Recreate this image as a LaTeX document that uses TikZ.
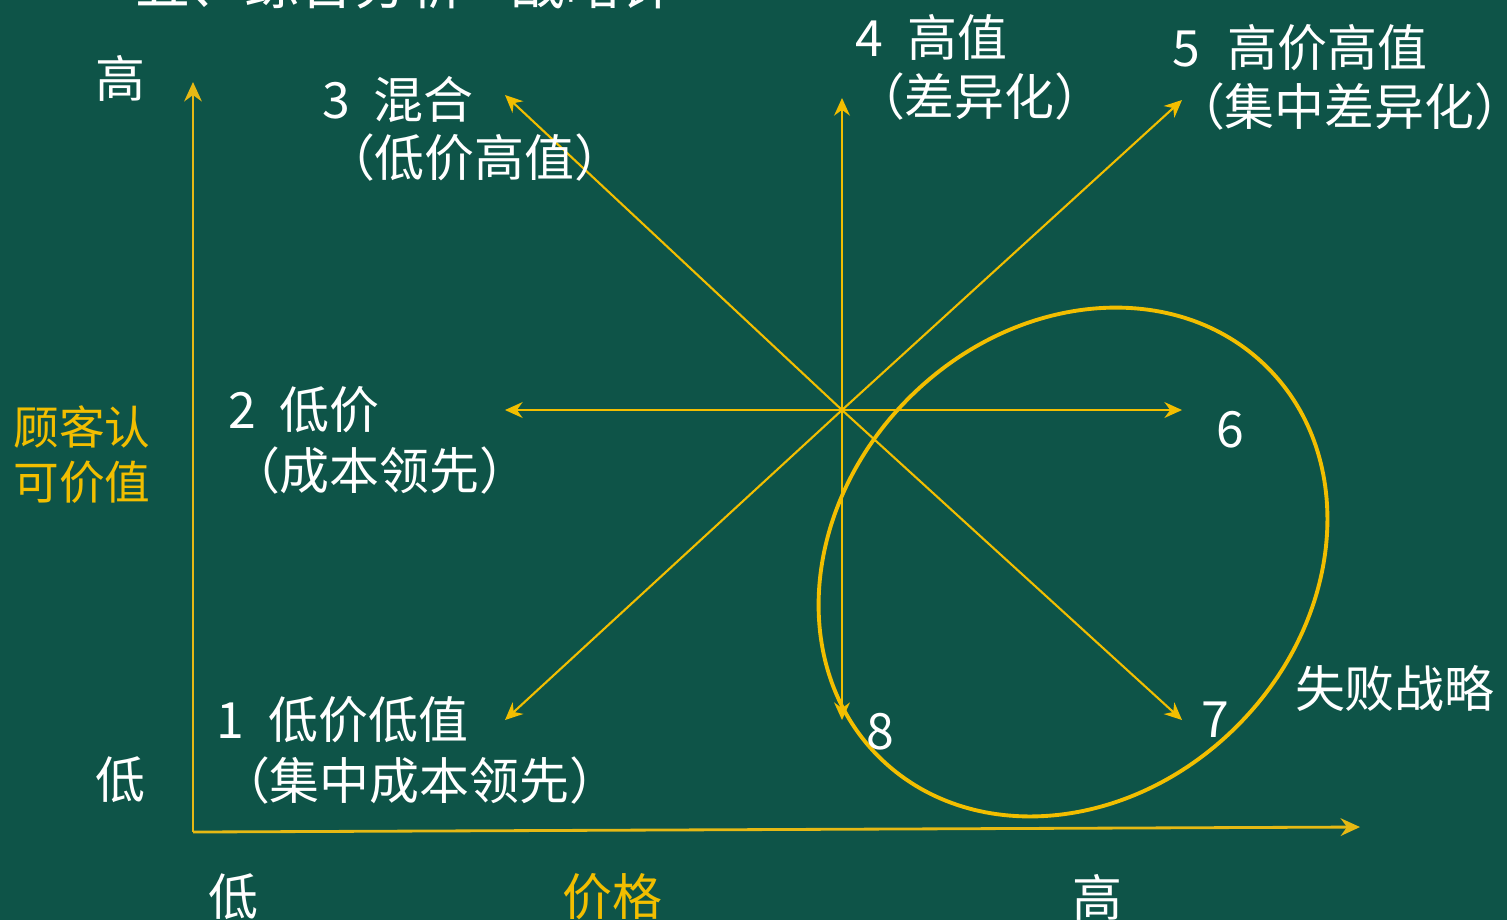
\documentclass[tikz,border=0pt]{standalone}
\usepackage{fontspec}
\setmainfont{Noto Sans CJK SC}
\usetikzlibrary{arrows.meta}
\definecolor{bg}{RGB}{14,84,72}
\definecolor{gold}{RGB}{242,190,0}
\definecolor{axisgold}{RGB}{230,185,20}
\begin{document}
\begin{tikzpicture}[x=0.01cm,y=-0.01cm,
  every node/.style={inner sep=0pt,outer sep=0pt,font=\fontsize{14.2pt}{17pt}\selectfont},
  lbl/.style={text=white,anchor=west},
  ctr/.style={text=white},
  ylab/.style={text=gold},
  arr/.style={draw=gold,line width=0.6pt,-{Stealth[length=5pt,width=4.5pt]}},
  axis/.style={draw=axisgold,line width=0.8pt,-{Stealth[length=5.5pt,width=5pt]}},
  ring/.style={draw=gold,line width=1.1pt}]
\fill[bg] (0,0) rectangle (1507,920);
\useasboundingbox (0,0) rectangle (1507,920);
\clip (0,0) rectangle (1507,920);
% title (cut off at top, as in the reference)
\node[text=white,anchor=base west,font=\fontsize{15.6pt}{18pt}\selectfont] (title) at (135,4) {五、综合分析\hspace{0.85em}战略钟};
% axes
\coordinate (orig) at (193,832);
\coordinate (yend) at (193,82);
\coordinate (xend) at (1360,827);
\draw[axis] (orig) -- (yend);
\draw[axis] (orig) -- (xend);
% centre and arrow ends
\coordinate (O) at (842,410);
\coordinate (e1) at (505,720);
\coordinate (e2) at (505,410);
\coordinate (e3) at (505,95);
\coordinate (e4) at (842,98);
\coordinate (e5) at (1182,100);
\coordinate (e6) at (1182,410);
\coordinate (e7) at (1182,720);
\coordinate (e8) at (842,720);
\foreach \e in {e1,e2,e3,e4,e5,e6,e7,e8} \draw[arr] (O) -- (\e);
% failure ring
\draw[ring,rotate around={45:(1073,562)}] (1073,562) ellipse [x radius=275, y radius=232];
% labels
\node[lbl] (t3a) at (322,100) {3\hspace{0.48em}混合};
\node[lbl] (t3b) at (325,158) {（低价高值）};
\node[lbl] (t4a) at (855,37) {4\hspace{0.5em}高值};
\node[lbl] (t4b) at (855,97) {（差异化）};
\node[lbl] (t5a) at (1172,48) {5\hspace{0.55em}高价高值};
\node[lbl] (t5b) at (1175,107) {（集中差异化）};
\node[lbl] (t2a) at (228,410) {2\hspace{0.48em}低价};
\node[lbl] (t2b) at (230,470) {（成本领先）};
\node[lbl] (t1a) at (216,720) {1\hspace{0.5em}低价低值};
\node[lbl] (t1b) at (220,780) {（集中成本领先）};
\node[ctr] (t6) at (1230,430) {6};
\node[ctr] (t7) at (1215,720) {7};
\node[ctr] (t8) at (880,732) {8};
\node[lbl] (fail) at (1295,688) {失败战略};
\node[ctr] (yhigh) at (120,78) {高};
\node[ctr] (ylow) at (120,780) {低};
\node[ylab,align=center,font=\fontsize{13pt}{15.6pt}\selectfont] (ylabel) at (82,455) {顾客认\\[0pt]可价值};
\node[ctr] (xlow) at (233,897) {低};
\node[ylab] (xlabel) at (612,897) {价格};
\node[ctr] (xhigh) at (1097,897) {高};
\end{tikzpicture}
\end{document}
